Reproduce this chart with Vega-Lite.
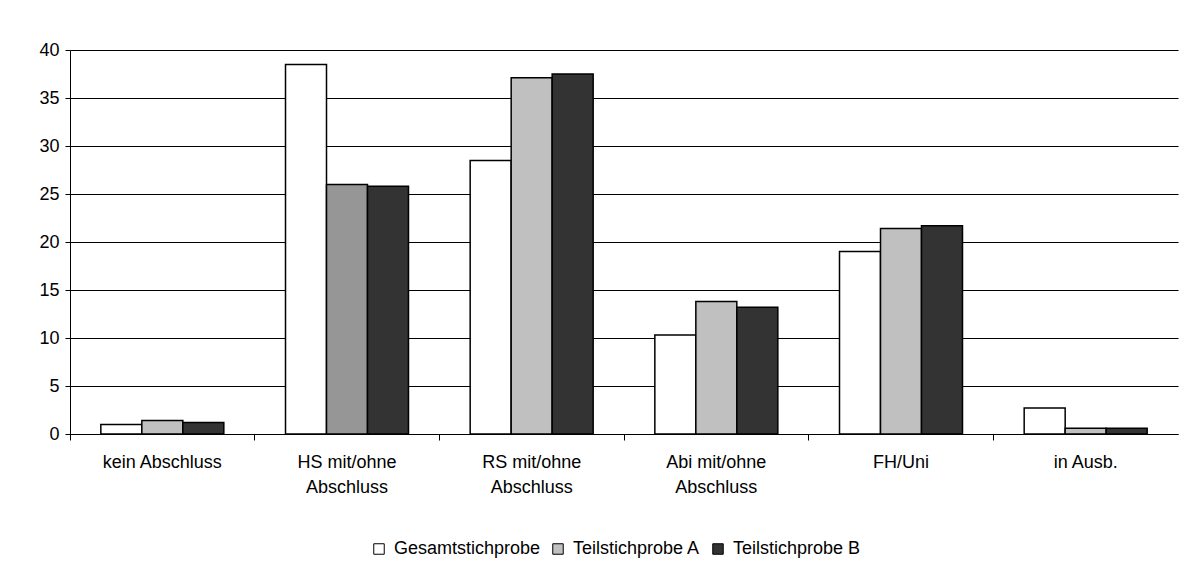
{
  "$schema": "https://vega.github.io/schema/vega-lite/v6.json",
  "width": 1108,
  "height": 384,
  "autosize": {"type": "none"},
  "padding": {"left": 70, "top": 50, "right": 12, "bottom": 150},
  "background": "white",
  "config": {
    "view": {"stroke": null},
    "font": "Liberation Sans",
    "axis": {"labelFont": "Liberation Sans", "labelFontSize": 18, "labelColor": "black"},
    "legend": {"labelFont": "Liberation Sans", "labelFontSize": 18, "labelColor": "black"}
  },
  "data": {
    "values": [
      {"cat": "kein Abschluss", "series": "Gesamtstichprobe", "value": 1.0},
      {"cat": "kein Abschluss", "series": "Teilstichprobe A", "value": 1.4},
      {"cat": "kein Abschluss", "series": "Teilstichprobe B", "value": 1.2},
      {"cat": "HS mit/ohne Abschluss", "series": "Gesamtstichprobe", "value": 38.5},
      {"cat": "HS mit/ohne Abschluss", "series": "Teilstichprobe A", "value": 26.0},
      {"cat": "HS mit/ohne Abschluss", "series": "Teilstichprobe B", "value": 25.8},
      {"cat": "RS  mit/ohne Abschluss", "series": "Gesamtstichprobe", "value": 28.5},
      {"cat": "RS  mit/ohne Abschluss", "series": "Teilstichprobe A", "value": 37.1},
      {"cat": "RS  mit/ohne Abschluss", "series": "Teilstichprobe B", "value": 37.5},
      {"cat": "Abi mit/ohne Abschluss", "series": "Gesamtstichprobe", "value": 10.3},
      {"cat": "Abi mit/ohne Abschluss", "series": "Teilstichprobe A", "value": 13.8},
      {"cat": "Abi mit/ohne Abschluss", "series": "Teilstichprobe B", "value": 13.2},
      {"cat": "FH/Uni", "series": "Gesamtstichprobe", "value": 19.0},
      {"cat": "FH/Uni", "series": "Teilstichprobe A", "value": 21.4},
      {"cat": "FH/Uni", "series": "Teilstichprobe B", "value": 21.7},
      {"cat": "in Ausb.", "series": "Gesamtstichprobe", "value": 2.7},
      {"cat": "in Ausb.", "series": "Teilstichprobe A", "value": 0.6},
      {"cat": "in Ausb.", "series": "Teilstichprobe B", "value": 0.6}
    ]
  },
  "mark": {"type": "bar", "stroke": "black", "strokeWidth": 1.5},
  "encoding": {
    "x": {
      "field": "cat",
      "type": "nominal",
      "sort": null,
      "scale": {"paddingInner": 0.334, "paddingOuter": 0.167},
      "axis": {
        "title": null,
        "labelAngle": 0,
        "labelExpr": "split(replace(datum.label, 'ohne ', 'ohne|'), '|')",
        "labelLineHeight": 25,
        "labelPadding": 13,
        "bandPosition": -0.25,
        "tickSize": 6,
        "tickColor": "black",
        "domainColor": "black",
        "domainWidth": 1
      }
    },
    "xOffset": {"field": "series", "type": "nominal", "sort": null},
    "y": {
      "field": "value",
      "type": "quantitative",
      "scale": {"domain": [0, 40]},
      "axis": {
        "title": null,
        "values": [0, 5, 10, 15, 20, 25, 30, 35, 40],
        "grid": true,
        "gridColor": "black",
        "gridWidth": 1,
        "tickColor": "black",
        "tickSize": 5,
        "domainColor": "black",
        "labelPadding": 6
      }
    },
    "fill": {
      "condition": {
        "test": "datum.cat === 'HS mit/ohne Abschluss' && datum.series === 'Teilstichprobe A'",
        "value": "#969696"
      },
      "field": "series",
      "type": "nominal",
      "scale": {
        "domain": ["Gesamtstichprobe", "Teilstichprobe A", "Teilstichprobe B"],
        "range": ["#ffffff", "#c0c0c0", "#333333"]
      },
      "legend": {
        "title": null,
        "orient": "none",
        "legendX": 300,
        "legendY": 490,
        "direction": "horizontal",
        "symbolType": "square",
        "symbolSize": 110,
        "symbolStrokeColor": "black",
        "symbolStrokeWidth": 1,
        "columnPadding": 8,
        "labelOffset": 6
      }
    }
  }
}
